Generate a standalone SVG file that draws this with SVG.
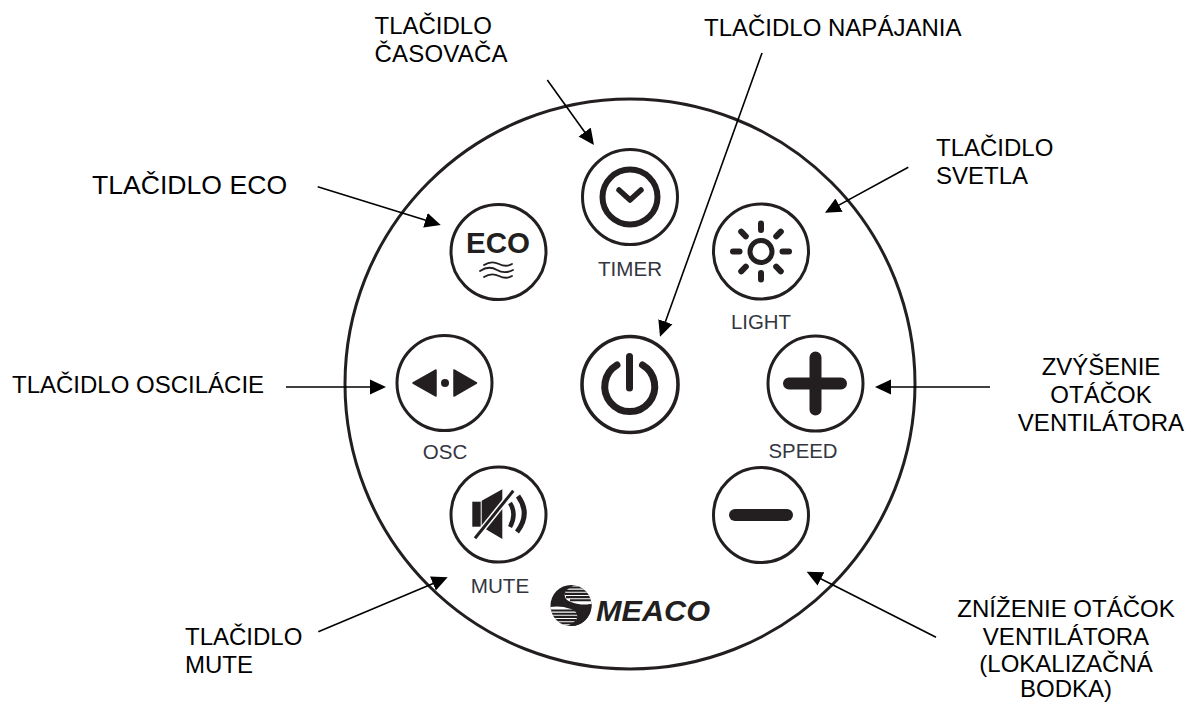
<svg xmlns="http://www.w3.org/2000/svg" width="1187" height="702" viewBox="0 0 1187 702">
<style>
text{font-family:"Liberation Sans",Arial,sans-serif}
.lab{font-size:24px;fill:#000}
.mid{text-anchor:middle}
.ring{fill:#fff;stroke:#231f20;stroke-width:3}
.cap{font-size:20.5px;fill:#33363f;text-anchor:middle}
.ic{fill:none;stroke:#231f20;stroke-linecap:round;stroke-linejoin:round}
.con{fill:none;stroke:#000;stroke-width:1.6;marker-end:url(#ah)}
</style>
<defs>
<marker id="ah" markerUnits="userSpaceOnUse" viewBox="0 -8 16 16" refX="8" refY="0" markerWidth="16" markerHeight="16" orient="auto"><path d="M0,-7.5L16,0L0,7.5z" fill="#000"/></marker>
<clipPath id="lc"><circle cx="571" cy="605.5" r="20.5"/></clipPath>
</defs>
<rect width="1187" height="702" fill="#fff"/>
<circle id="panel" cx="630" cy="384" r="285" fill="none" stroke="#231f20" stroke-width="3"/>

<g id="btn-timer"><circle class="ring" cx="630" cy="197" r="47.5"/><circle class="ic" cx="630" cy="197" r="27.5" stroke-width="6"/><path class="ic" stroke-width="5.5" d="M619,190L630,200L641,190"/><text class="cap" x="630" y="275.5" textLength="64" lengthAdjust="spacingAndGlyphs">TIMER</text></g>
<g id="btn-eco"><circle class="ring" cx="498.5" cy="252" r="47.5"/><text x="498" y="252.7" font-size="30" font-weight="700" fill="#231f20" text-anchor="middle" textLength="64" lengthAdjust="spacingAndGlyphs">ECO</text><path class="ic" stroke-width="1.8" d="M484,265c6,-4 11,-3 15,-1s8,3 13,0M480,271c6,-4 12,-4 17,-1s10,3 16,0M484,277c6,-4 11,-3 15,-1s8,3 13,0"/></g>
<g id="btn-light"><circle class="ring" cx="761" cy="251.5" r="47.5"/><circle class="ic" cx="761" cy="251.5" r="11" stroke-width="5"/><path class="ic" stroke-width="6" d="M761,223.5V230M761,273V279.5M733,251.5H739.5M782.5,251.5H789M741.2,231.7L745.8,236.3M776.2,266.7L780.8,271.3M741.2,271.3L745.8,266.7M776.2,236.3L780.8,231.7"/><text class="cap" x="761" y="329" textLength="60" lengthAdjust="spacingAndGlyphs">LIGHT</text></g>
<g id="btn-osc"><circle class="ring" cx="444.5" cy="383" r="47.5"/><path d="M413,383L436,370V396zM476.5,383L454,370V396z" fill="#231f20" stroke="#231f20" stroke-width="1.5" stroke-linejoin="round"/><circle cx="445" cy="383" r="4" fill="#231f20"/><text class="cap" x="445" y="459" textLength="44.5" lengthAdjust="spacingAndGlyphs">OSC</text></g>
<g id="btn-power"><circle class="ring" cx="630" cy="384.5" r="48" style="stroke-width:3.6"/><path class="ic" stroke-width="7" d="M617,365A25,25 0 1 0 642.5,365"/><path class="ic" stroke-width="7" d="M629.5,356.5V388"/></g>
<g id="btn-speed"><circle class="ring" cx="815.5" cy="383.5" r="47.5"/><path class="ic" stroke-width="12" d="M789,383.5H841M815.5,357.5V409.5"/><text class="cap" x="803" y="458" textLength="69" lengthAdjust="spacingAndGlyphs">SPEED</text></g>
<g id="btn-mute"><circle class="ring" cx="498.5" cy="514.5" r="47.5"/><rect x="472.3" y="501.7" width="8.4" height="25" fill="#231f20"/><path d="M481.7,500.7L502.3,489.3V539L481.7,526.7z" fill="#231f20"/><path d="M475,538.3L513.3,490.7" fill="none" stroke="#fff" stroke-width="6"/><path d="M475,538.3L513.3,490.7" fill="none" stroke="#231f20" stroke-width="3"/><path d="M510,503Q517,514 510,527" fill="none" stroke="#231f20" stroke-width="4.5"/><path d="M518,496Q531,514 517,532" fill="none" stroke="#231f20" stroke-width="5"/><text class="cap" x="500" y="592.7" textLength="58.5" lengthAdjust="spacingAndGlyphs">MUTE</text></g>
<g id="btn-minus"><circle class="ring" cx="761" cy="515" r="47.5"/><path class="ic" stroke-width="12" d="M735,515H787"/></g>

<g id="logo"><circle cx="571" cy="605.5" r="20.5" fill="#231f20"/><g clip-path="url(#lc)"><path d="M576,585C562,589 562,599 571,602C579,605 585,605 592,604V585z" fill="#fff"/><path d="M566,626C580,622 580,612 571,609C563,606 556,606 550,607V626z" fill="#fff"/><path d="M566,587.5H592M566,590.7H592M565,593.9H592M566,597.1H592M570,600.3H592M550,610.5H577M550,613.7H577M550,616.9H577M550,620.1H576M550,623.3H574" stroke="#231f20" stroke-width="2.1" fill="none"/><path d="M592,604C584,604 582,609 581,615C579,621 575,624 570,626H592z" fill="#231f20"/></g><text x="596" y="620.7" font-size="29" font-weight="700" font-style="italic" fill="#231f20" textLength="114" lengthAdjust="spacingAndGlyphs">MEACO</text></g>

<g id="connectors">
<path class="con" d="M317.7,186.7L433.1,222.6"/>
<path class="con" d="M547.3,80L589.3,138.5"/>
<path class="con" d="M762,53L662.7,329.2"/>
<path class="con" d="M908.3,167.3L832,208.9"/>
<path class="con" d="M286,387H378"/>
<path class="con" d="M990,387H883"/>
<path class="con" d="M318.3,631.7L440.3,580.4"/>
<path class="con" d="M936,637.3L813.8,575.3"/>
</g>

<g id="labels">
<text class="lab" x="374.5" y="34">TLAČIDLO</text>
<text class="lab" x="374.5" y="62" textLength="133">ČASOVAČA</text>
<text class="lab" x="704" y="36">TLAČIDLO NAPÁJANIA</text>
<text x="92" y="194" font-size="26.6" fill="#000">TLAČIDLO ECO</text>
<text class="lab" x="936" y="156">TLAČIDLO</text>
<text class="lab" x="936" y="184">SVETLA</text>
<text class="lab" x="12" y="393">TLAČIDLO OSCILÁCIE</text>
<text class="lab mid" x="1101" y="375">ZVÝŠENIE</text>
<text class="lab mid" x="1101" y="403">OTÁČOK</text>
<text class="lab mid" x="1101" y="431">VENTILÁTORA</text>
<text class="lab" x="185" y="645">TLAČIDLO</text>
<text class="lab" x="185" y="673">MUTE</text>
<text class="lab mid" x="1066" y="616.7">ZNÍŽENIE OTÁČOK</text>
<text class="lab mid" x="1066" y="644.5">VENTILÁTORA</text>
<text class="lab mid" x="1066" y="671.5">(LOKALIZAČNÁ</text>
<text class="lab mid" x="1066" y="696.8">BODKA)</text>
</g>
</svg>
